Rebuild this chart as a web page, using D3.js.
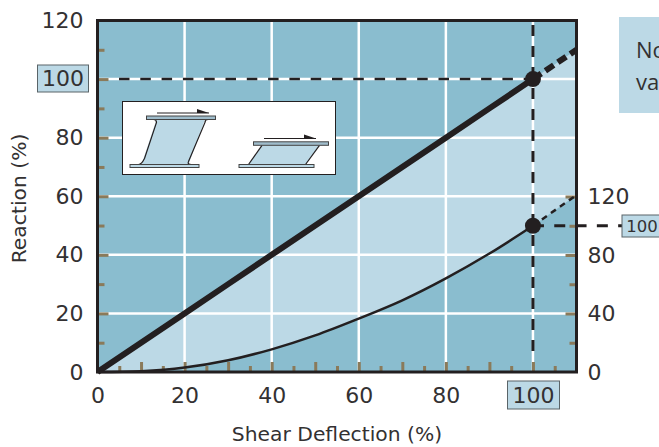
<!DOCTYPE html>
<html>
<head>
<meta charset="utf-8">
<style>
  html, body { margin: 0; padding: 0; background: #fff; overflow: hidden; }
  text { font-family: "DejaVu Sans", sans-serif; fill: #333132; }
</style>
<script src="https://cdn.jsdelivr.net/npm/d3@7/dist/d3.min.js"></script>
</head>
<body>
<svg id="chart" width="659" height="447"></svg>
<script>
// values
var deflection = [0, 10, 20, 30, 40, 50, 60, 70, 80, 90, 100];
var linearReaction = [0, 10, 20, 30, 40, 50, 60, 70, 80, 90, 100];
var curveReaction = [0, 0.5, 3, 8, 15.5, 25, 36.5, 49, 64, 81, 100];
var extDeflection = [100, 110];
var extLinear = [100, 110];
var extCurve = [100, 121];

var xLabels = [0, 20, 40, 60, 80];
var xMajor = [10, 20, 30, 40, 50, 60, 70, 80, 90, 100];
var xMinor = [5, 15, 25, 35, 45, 55, 65, 75, 85, 95, 105];
var yLabels = [0, 20, 40, 60, 80, 120];
var yMajor = [20, 40, 60, 80, 100];
var yMinor = [10, 30, 50, 70, 90, 110];
var rightLabels = [0, 40, 80, 120];
var rightMinor = [20, 60, 100];
var gridX = [20, 40, 60, 80, 100];
var gridY = [20, 40, 60, 80, 100];

var BLACK = "#231f20", DARK = "#8abdcf", LIGHT = "#bcd9e6", TICK = "#8a7a5a";

var svg = d3.select("#chart");
var x = d3.scaleLinear().domain([0, 110]).range([97.5, 576.5]);
var y = d3.scaleLinear().domain([0, 120]).range([372, 20.5]);
var yRight = d3.scaleLinear().domain([0, 120]).range([372, 196.5]);

// background
svg.append("rect").attr("x", x(0)).attr("y", y(120))
  .attr("width", x(110) - x(0)).attr("height", y(0) - y(120)).attr("fill", DARK);

// light band between the two lines
var upper = deflection.map(function (d, i) { return [x(d), y(linearReaction[i])]; })
  .concat([[x(110), y(110)]]);
var lower = deflection.map(function (d, i) { return [x(d), yRight(curveReaction[i])]; })
  .concat([[x(110), yRight(121)]]);
svg.append("path")
  .attr("d", d3.line()(upper.concat(lower.slice().reverse())))
  .attr("fill", LIGHT);

// grid
svg.selectAll(".gx").data(gridX).enter().append("line")
  .attr("x1", function (d) { return x(d); }).attr("x2", function (d) { return x(d); })
  .attr("y1", y(120)).attr("y2", y(0))
  .attr("stroke", "#fff").attr("stroke-width", 2.5);
svg.selectAll(".gy").data(gridY).enter().append("line")
  .attr("x1", x(0)).attr("x2", x(110))
  .attr("y1", function (d) { return y(d); }).attr("y2", function (d) { return y(d); })
  .attr("stroke", "#fff").attr("stroke-width", 2.5);

// dashed guides
svg.append("line").attr("x1", 119).attr("x2", x(100)).attr("y1", y(100)).attr("y2", y(100))
  .attr("stroke", BLACK).attr("stroke-width", 2.5).attr("stroke-dasharray", "10.5 10.8");
svg.append("line").attr("x1", x(100)).attr("x2", x(100)).attr("y1", 351).attr("y2", y(120))
  .attr("stroke", BLACK).attr("stroke-width", 3).attr("stroke-dasharray", "11 10");
svg.append("line").attr("x1", x(100)).attr("x2", 622).attr("y1", yRight(100)).attr("y2", yRight(100))
  .attr("stroke", BLACK).attr("stroke-width", 3).attr("stroke-dasharray", "11 10.3");

// axes
function styleTicks(g) {
  g.select(".domain").remove();
  g.selectAll("line").attr("stroke", TICK).attr("stroke-width", 3);
  g.selectAll("text").style("font-size", "22px").attr("fill", "#333132");
}
svg.append("g").attr("transform", "translate(0,372)")
  .call(d3.axisBottom(x).tickValues(xMajor).tickSize(-10).tickFormat("")).call(styleTicks);
svg.append("g").attr("transform", "translate(0,372)")
  .call(d3.axisBottom(x).tickValues(xMinor).tickSize(-6).tickFormat("")).call(styleTicks);
svg.append("g").attr("transform", "translate(0,372)")
  .call(d3.axisBottom(x).tickValues(xLabels).tickSize(0).tickPadding(15).tickFormat(d3.format("d"))).call(styleTicks);
svg.append("g").attr("transform", "translate(97.5,0)")
  .call(d3.axisLeft(y).tickValues(yMajor).tickSize(-11).tickFormat("")).call(styleTicks);
svg.append("g").attr("transform", "translate(97.5,0)")
  .call(d3.axisLeft(y).tickValues(yMinor).tickSize(-7).tickFormat("")).call(styleTicks);
svg.append("g").attr("transform", "translate(97.5,0)")
  .call(d3.axisLeft(y).tickValues(yLabels).tickSize(0).tickPadding(14).tickFormat(d3.format("d"))).call(styleTicks);
svg.append("g").attr("transform", "translate(576.5,0)")
  .call(d3.axisRight(yRight).tickValues(rightLabels.slice(1)).tickSize(-11).tickFormat("")).call(styleTicks);
svg.append("g").attr("transform", "translate(576.5,0)")
  .call(d3.axisRight(yRight).tickValues(rightMinor).tickSize(-7).tickFormat("")).call(styleTicks);
svg.append("g").attr("transform", "translate(576.5,0)")
  .call(d3.axisRight(yRight).tickValues(rightLabels).tickSize(0).tickPadding(11).tickFormat(d3.format("d"))).call(styleTicks);

// curves
var line = d3.line()
  .x(function (d) { return x(d[0]); })
  .y(function (d) { return d[1]; });
var curve = d3.line().curve(d3.curveCatmullRom)
  .x(function (d) { return x(d[0]); })
  .y(function (d) { return d[1]; });

svg.append("path")
  .attr("d", curve(deflection.map(function (d, i) { return [d, yRight(curveReaction[i])]; })))
  .attr("fill", "none").attr("stroke", BLACK).attr("stroke-width", 2.5);
svg.append("path")
  .attr("d", line(extDeflection.map(function (d, i) { return [d, yRight(extCurve[i])]; })))
  .attr("fill", "none").attr("stroke", BLACK).attr("stroke-width", 2.5).attr("stroke-dasharray", "6 5");
svg.append("path")
  .attr("d", line(deflection.map(function (d, i) { return [d, y(linearReaction[i])]; })))
  .attr("fill", "none").attr("stroke", BLACK).attr("stroke-width", 6);
svg.append("path")
  .attr("d", line(extDeflection.map(function (d, i) { return [d, y(extLinear[i])]; })))
  .attr("fill", "none").attr("stroke", BLACK).attr("stroke-width", 6).attr("stroke-dasharray", "10 5");

// points at 100 %
svg.append("circle").attr("cx", x(100)).attr("cy", y(100)).attr("r", 8).attr("fill", BLACK);
svg.append("circle").attr("cx", x(100)).attr("cy", yRight(100)).attr("r", 8).attr("fill", BLACK);

// frame
svg.append("rect").attr("x", x(0)).attr("y", y(120))
  .attr("width", x(110) - x(0)).attr("height", y(0) - y(120))
  .attr("fill", "none").attr("stroke", BLACK).attr("stroke-width", 3);

// boxed labels
function boxed(bx, by, w, h, label, size, tx) {
  svg.append("rect").attr("x", bx).attr("y", by).attr("width", w).attr("height", h)
    .attr("fill", LIGHT).attr("stroke", "#5a6468").attr("stroke-width", 1);
  svg.append("text").attr("x", tx).attr("y", by + h / 2).attr("dy", ".36em")
    .attr("text-anchor", "middle").style("font-size", size + "px").text(label);
}
boxed(37.5, 65, 51, 27, "100", 22, 63);
boxed(507.5, 381, 52, 28, "100", 22, 533.5);
boxed(622, 215, 50, 22, "100", 16.5, 642);

// titles
svg.append("text").attr("x", 337).attr("y", 441).attr("text-anchor", "middle")
  .style("font-size", "20.3px").text("Shear Deflection (%)");
svg.append("text").attr("transform", "translate(26,198.5) rotate(-90)").attr("text-anchor", "middle")
  .style("font-size", "20.3px").text("Reaction (%)");

// note box, cut by the page edge as in the reference
svg.append("rect").attr("x", 619).attr("y", 17).attr("width", 60).attr("height", 96).attr("fill", LIGHT);
svg.append("text").attr("x", 636).attr("y", 58).style("font-family", "'Open Sans'").style("font-size", "22px").text("No");
svg.append("text").attr("x", 636).attr("y", 90).style("font-family", "'Open Sans'").style("font-size", "22px").text("va");

// inset with the two bearing sketches
var inset = svg.append("g");
inset.append("rect").attr("x", 122.5).attr("y", 101.5).attr("width", 213).attr("height", 73)
  .attr("fill", "#fff").attr("stroke", BLACK).attr("stroke-width", 1);

function sketch(tx1, tx2, ty, bx1, bx2, by, wl1, wl2, wr1, wr2, ax1, ax2, ay, r) {
  var top = ty + 3.5;
  // web body
  var body = d3.path();
  body.moveTo(wl1, top);
  body.lineTo(wr1, top);
  body.lineTo(wr2, by);
  body.lineTo(wl2, by);
  body.closePath();
  inset.append("path").attr("d", body.toString()).attr("fill", LIGHT);
  // left and right edge of the web, with fillets where r > 0
  var p = d3.path();
  p.moveTo(wl1 - r, top);
  p.quadraticCurveTo(wl1, top, wl1, top + r);
  p.lineTo(wl2 + r, by - r * 2);
  p.quadraticCurveTo(wl2, by, wl2 - r, by);
  var q = d3.path();
  q.moveTo(wr1 + r, top);
  q.quadraticCurveTo(wr1, top, wr1, top + r);
  q.lineTo(wr2, by - r);
  q.quadraticCurveTo(wr2 - r / 2, by, wr2 + r, by);
  inset.append("path").attr("d", p.toString()).attr("fill", "none").attr("stroke", BLACK).attr("stroke-width", 1.2);
  inset.append("path").attr("d", q.toString()).attr("fill", "none").attr("stroke", BLACK).attr("stroke-width", 1.2);
  // flanges
  inset.append("rect").attr("x", tx1).attr("y", ty).attr("width", tx2 - tx1).attr("height", 3.5)
    .attr("fill", "#9fbccb").attr("stroke", "#444").attr("stroke-width", 1);
  inset.append("rect").attr("x", bx1).attr("y", by).attr("width", bx2 - bx1).attr("height", 3)
    .attr("fill", LIGHT).attr("stroke", "#444").attr("stroke-width", 1);
  // arrow
  inset.append("line").attr("x1", ax1).attr("y1", ay).attr("x2", ax2).attr("y2", ay)
    .attr("stroke", BLACK).attr("stroke-width", 1);
  var h = d3.path();
  h.moveTo(ax2 - 12, ay - 4);
  h.lineTo(ax2, ay);
  h.lineTo(ax2 - 12, ay);
  h.closePath();
  inset.append("path").attr("d", h.toString()).attr("fill", BLACK);
}
sketch(146.5, 215.5, 116, 130, 199, 164.5, 156.5, 141.5, 205, 188.5, 157, 209, 113, 3);
sketch(253.5, 328.5, 141.8, 239, 314, 164.5, 262, 248.5, 319.5, 305.5, 264, 316, 138.5, 0);
</script>
</body>
</html>
